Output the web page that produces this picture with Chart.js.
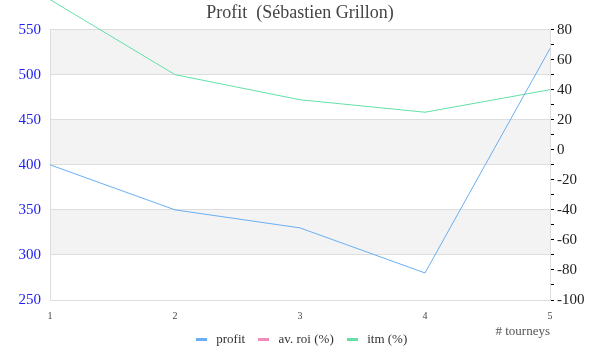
<!DOCTYPE html>
<html>
<head>
<meta charset="utf-8">
<script src="https://cdn.jsdelivr.net/npm/chart.js@4/dist/chart.umd.min.js"></script>
<style>
  html, body { margin: 0; padding: 0; background: #fff; }
  #wrap { width: 600px; height: 360px; }
</style>
</head>
<body>
<div id="wrap"><canvas id="chart"></canvas></div>
<script>
// data
var tourneys = [1, 2, 3, 4, 5];
var profit = [400, 350, 330, 280, 529];
var avRoi = [null, null, null, null, null];
var itm = [100, 50, 33.3, 25, 40];

var serif = "'Liberation Serif', 'DejaVu Serif', serif";

// alternate grey bands between the left axis grid lines
var bandsPlugin = {
  id: 'bands',
  beforeDraw: function(chart) {
    var ctx = chart.ctx;
    var area = chart.chartArea;
    var y = chart.scales.y;
    ctx.save();
    ctx.fillStyle = '#f3f3f3';
    for (var v = 300; v < 550; v += 100) {
      var top = y.getPixelForValue(v + 50);
      var bot = y.getPixelForValue(v);
      ctx.fillRect(area.left, top, area.right - area.left, bot - top);
    }
    ctx.restore();
  }
};

// short dash used as legend marker
function dash(color) {
  var c = document.createElement('canvas');
  c.width = 11; c.height = 3;
  var g = c.getContext('2d');
  g.fillStyle = color;
  g.fillRect(0, 0, 11, 3);
  return c;
}

new Chart(document.getElementById('chart'), {
  type: 'line',
  data: {
    labels: tourneys,
    datasets: [
      { label: 'profit', data: profit, yAxisID: 'y', borderColor: '#6aaff2', backgroundColor: '#6aaff2',
        borderWidth: 1, pointRadius: 0, tension: 0, clip: false },
      { label: 'av. roi (%)', data: avRoi, yAxisID: 'y1', borderColor: '#f08bbb', backgroundColor: '#f08bbb',
        borderWidth: 1, pointRadius: 0, tension: 0 },
      { label: 'itm (%)', data: itm, yAxisID: 'y1', borderColor: '#62e0a6', backgroundColor: '#62e0a6',
        borderWidth: 1, pointRadius: 0, tension: 0, clip: false }
    ]
  },
  options: {
    responsive: true,
    maintainAspectRatio: false,
    animation: false,
    layout: { padding: { left: 0, right: 0, top: 0, bottom: 4 } },
    plugins: {
      title: {
        display: true,
        text: 'Profit  (Sébastien Grillon)',
        color: '#444',
        font: { family: serif, size: 18, weight: 'normal' },
        padding: { top: 2, bottom: 6 }
      },
      legend: {
        position: 'bottom',
        labels: {
          color: '#333',
          font: { family: serif, size: 13 },
          usePointStyle: true,
          pointStyleWidth: 17,
          boxHeight: 3,
          padding: 10,
          generateLabels: function(chart) {
            var items = Chart.defaults.plugins.legend.labels.generateLabels(chart);
            items.forEach(function(it) { it.pointStyle = dash(it.strokeStyle); });
            return items;
          }
        }
      },
      tooltip: { enabled: false }
    },
    scales: {
      x: {
        offset: false,
        afterFit: function(s) { s.height = 23; },
        grid: { display: false },
        border: { color: '#ddd' },
        ticks: { color: '#444', font: { family: serif, size: 10 }, maxRotation: 0, padding: 2 },
        title: { display: true, text: '# tourneys', align: 'end', color: '#555',
                 font: { family: serif, size: 13 }, padding: { top: 0, bottom: -16 } }
      },
      y: {
        position: 'left',
        min: 250, max: 550,
        afterFit: function(s) { s.width = 50; },
        grid: { color: '#dddddd', drawTicks: false },
        border: { color: '#ddd' },
        ticks: { stepSize: 50, color: '#2222ee', font: { family: serif, size: 15 }, padding: 9 }
      },
      y1: {
        position: 'right',
        min: -100, max: 80,
        afterFit: function(s) { s.width = 50; },
        grid: { drawOnChartArea: false, color: '#000', tickLength: 4, tickWidth: 1 },
        border: { color: '#ddd' },
        ticks: {
          stepSize: 10, color: '#222', font: { family: serif, size: 15 }, padding: 3,
          autoSkip: false,
          callback: function(v) { return v % 20 === 0 ? v : ''; }
        }
      }
    }
  },
  plugins: [bandsPlugin]
});
</script>
</body>
</html>
